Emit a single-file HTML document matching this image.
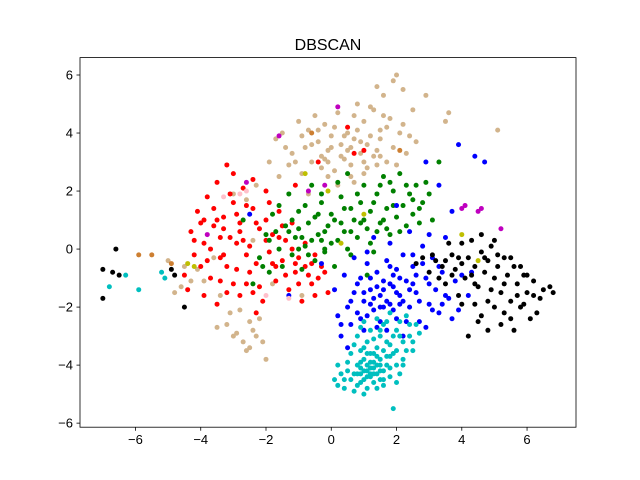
<!DOCTYPE html>
<html><head><meta charset="utf-8"><style>
html,body{margin:0;padding:0;background:#fff;}
svg{display:block;font-family:"Liberation Sans","DejaVu Sans",sans-serif;}
</style></head><body>
<svg id="chart" width="640" height="480" viewBox="0 0 640 480"></svg>
<script>
const xTicks=[-6,-4,-2,0,2,4,6];
const yTicks=[-6,-4,-2,0,2,4,6];
const tanPts=[[-1.7,3.8],[-1.5,4.0],[-1.3,2.9],[-1.2,3.3],[-1.0,4.4],[-0.9,2.6],[-0.8,3.5],[-0.7,4.1],[-0.6,3.0],[-0.5,4.6],[-0.4,3.7],[-0.3,2.8],[-0.2,4.3],[-0.1,3.4],[0.0,3.9],[0.1,2.7],[0.2,4.7],[0.3,3.6],[0.4,3.1],[0.5,4.0],[0.6,2.9],[0.7,3.8],[0.8,5.0],[0.9,3.3],[1.0,4.4],[1.1,2.8],[1.2,3.9],[1.3,4.8],[1.4,3.4],[1.5,4.1],[1.6,5.3],[1.7,3.0],[1.8,4.5],[1.9,5.8],[2.0,6.0],[2.1,4.0],[2.2,5.5],[2.3,3.3],[2.5,4.8],[2.6,3.7],[2.9,5.3],[3.5,4.4],[3.6,4.7],[5.1,4.1],[0.2,2.2],[0.7,2.3],[1.0,2.6],[-0.7,1.9],[-2.3,2.2],[-1.9,3.0],[1.4,5.6],[1.2,4.9],[0.5,3.4],[-0.3,3.2],[-3.5,-2.7],[-3.2,-2.6],[-2.9,-2.9],[-2.7,-3.2],[-2.6,-3.5],[-2.5,-3.4],[-2.4,-2.8],[-2.1,-3.2],[-2.0,-3.8],[-2.8,-2.1],[-3.9,-1.1],[-4.1,-0.7],[-4.5,-0.6],[-4.8,-1.5],[-4.6,-1.3],[-5.0,-0.4],[-3.6,-0.3],[-2.2,-2.4],[-1.8,-1.2],[-0.9,-1.6],[-3.0,1.9],[-2.6,1.7],[-2.4,0.3],[0.9,3.7],[-0.1,3.0],[1.5,3.2],
[-1.4,3.5],[-1.1,3.0],[-0.9,3.9],[-0.6,3.6],[-0.4,4.1],[-0.2,3.1],[0.0,3.5],[0.1,4.2],[0.3,3.2],[0.4,3.9],[0.6,3.5],[0.8,4.1],[1.0,3.0],[1.1,3.6],[1.3,3.2],[1.5,3.8],[1.7,4.2],[1.9,3.5],[2.2,4.3],[2.4,3.9],[0.7,4.6],[1.6,4.6],[-0.1,2.5],[0.6,2.5],[1.4,2.9],[2.0,2.9],[-1.6,2.5],[-3.0,-3.0],[-2.3,-3.0],[-3.4,-1.6],[-4.3,-1.1],[-3.1,-2.2],[-2.5,-2.5]];
const redPts=[[-4.3,0.6],[-4.2,-0.2],[-4.1,1.3],[-4.0,-0.6],[-3.9,0.2],[-3.8,1.8],[-3.7,-1.0],[-3.6,0.8],[-3.5,2.3],[-3.4,-0.3],[-3.3,1.1],[-3.2,-1.5],[-3.2,2.9],[-3.1,0.4],[-3.0,1.6],[-2.9,-0.7],[-2.8,0.9],[-2.7,2.1],[-2.6,-1.2],[-2.5,0.1],[-2.4,1.4],[-2.3,-0.5],[-2.2,0.7],[-2.1,-1.8],[-2.0,1.0],[-1.9,-0.1],[-1.8,0.5],[-1.7,-1.1],[-1.6,1.3],[-1.5,-0.4],[-1.4,0.3],[-1.3,-1.4],[-1.2,0.9],[-1.1,-0.8],[-1.0,-0.3],[-0.9,-1.8],[-0.8,0.2],[-0.7,-0.9],[-0.6,-0.5],[-0.4,-1.0],[-0.2,-0.8],[-0.1,-1.5],[-3.5,-1.9],[-2.8,-1.6],[-4.4,-1.4],[-3.0,2.6],[-2.0,2.0],[-3.7,0.0],[-2.6,-0.2],[-1.5,0.8],[0.5,4.2],[0.7,3.3],[1.0,3.4],[-0.4,3.0],[-1.1,2.2],[-3.3,0.7],[-2.3,-2.2],[-3.9,1.0],[-2.9,0.2],[-1.7,-0.6],[-3.4,-1.1],[-2.4,-1.5],[-0.5,-0.2],
[-4.0,0.9],[-3.8,-0.4],[-3.6,1.4],[-3.4,0.4],[-3.2,-0.6],[-3.1,1.9],[-2.9,1.2],[-2.7,0.3],[-2.5,-0.8],[-2.3,0.9],[-2.2,-1.3],[-2.0,0.3],[-1.8,-0.5],[-1.6,0.4],[-1.4,-0.9],[-1.2,0.0],[-1.0,-1.2],[-0.8,-0.6],[-0.6,-1.2],[-0.3,-0.6],[-3.5,1.0],[-3.0,-1.2],[-2.6,1.5],[-4.2,0.3],[-3.9,-1.6],[-2.4,2.4],[-1.9,1.6],[-1.1,-0.5],[-0.5,-1.6],[-4.5,-0.9],[-3.3,-0.2],[-2.8,0.6]];
const greenPts=[[-2.4,-1.2],[-2.2,-0.3],[-2.0,0.5],[-1.9,-0.8],[-1.8,1.2],[-1.6,0.0],[-1.5,-0.6],[-1.4,0.8],[-1.3,1.9],[-1.2,-0.2],[-1.1,0.4],[-1.0,1.3],[-0.9,-0.7],[-0.8,0.1],[-0.7,0.9],[-0.6,2.2],[-0.5,-0.4],[-0.4,0.5],[-0.3,1.6],[-0.2,-0.1],[-0.1,0.8],[0.0,1.2],[0.1,-0.6],[0.2,0.3],[0.3,1.8],[0.4,0.6],[0.5,2.6],[0.6,-0.2],[0.7,1.0],[0.8,0.4],[0.9,1.6],[1.0,2.2],[1.1,0.7],[1.2,1.3],[1.3,-0.1],[1.4,1.9],[1.5,0.9],[1.6,2.5],[1.7,1.4],[1.8,0.5],[1.9,2.0],[2.0,1.1],[2.1,2.6],[2.2,1.5],[2.3,0.8],[2.4,1.9],[2.5,1.2],[2.6,2.2],[2.7,0.9],[2.8,1.6],[3.0,1.9],[3.1,1.0],[3.3,3.0],[-0.5,1.1],[-1.0,0.0],[0.2,2.3],[1.1,-0.9],[-1.7,0.6],[-0.2,0.0],[0.6,1.4],[1.6,1.0],[-2.7,1.0],[-0.9,0.4],[-0.3,0.3],
[-1.9,0.3],[-1.6,1.5],[-1.3,0.6],[-1.0,0.7],[-0.8,1.5],[-0.6,0.3],[-0.4,1.2],[-0.2,0.6],[0.0,0.2],[0.1,1.0],[0.3,0.9],[0.4,1.4],[0.6,0.6],[0.8,1.9],[1.0,1.0],[1.2,0.2],[1.3,1.6],[1.5,2.2],[1.7,0.7],[1.9,1.5],[2.1,0.6],[2.3,2.2],[2.5,1.7],[2.7,1.4],[2.9,2.3],[1.8,2.3],[0.5,0.0],[-0.7,-0.2],[-1.2,1.0],[-2.1,-0.6],[-0.3,1.9],[0.9,0.9],[1.4,0.6]];
const bluePts=[[0.2,-2.3],[0.3,-3.0],[0.5,-2.0],[0.6,-2.6],[0.7,-1.5],[0.8,-2.2],[0.9,-1.0],[1.0,-1.8],[1.0,-2.8],[1.1,-0.5],[1.2,-1.4],[1.3,-2.1],[1.4,-0.8],[1.5,-1.6],[1.5,-2.5],[1.6,-1.1],[1.7,-0.4],[1.8,-1.9],[1.9,-1.3],[2.0,-0.7],[2.0,-2.4],[2.1,-1.6],[2.2,-0.2],[2.3,-1.1],[2.4,-2.0],[2.5,-0.6],[2.6,-1.5],[2.7,-2.5],[2.8,0.1],[2.9,-1.0],[3.0,-1.9],[3.1,-0.3],[3.2,-1.4],[3.3,-2.2],[3.4,-0.8],[3.5,0.4],[3.6,-1.7],[3.8,-1.1],[3.9,-2.1],[4.0,-0.9],[4.2,-1.6],[2.4,0.6],[1.8,0.2],[1.3,0.4],[0.7,-0.3],[2.2,-3.0],[1.7,-2.8],[3.9,3.6],[4.4,3.2],[4.7,3.0],[2.9,3.0],[3.3,2.2],[2.0,1.5],[-0.3,-0.5],[-2.5,1.2],[-1.3,-1.6],[0.1,-1.4],[1.1,-0.1],[0.4,-0.9],[1.2,-1.9],[1.6,-2.0],[2.1,-1.9],[1.4,-1.3],[0.9,-2.4],[2.5,-1.2],
[0.6,-1.8],[0.8,-1.2],[1.0,-1.5],[1.2,-1.0],[1.3,-1.7],[1.5,-2.0],[1.6,-1.4],[1.7,-1.8],[1.8,-1.2],[1.9,-2.1],[2.0,-1.5],[2.1,-1.0],[2.2,-1.8],[2.3,-2.5],[2.4,-1.4],[2.6,-0.9],[2.7,-1.8],[2.8,-0.5],[3.0,-1.2],[3.1,-2.1],[3.3,-0.6],[3.5,-1.6],[3.7,-2.4],[1.1,-2.3],[0.5,-3.4],[0.3,-2.6],[1.4,-2.7],[1.9,-0.9],[2.9,-2.7],[3.4,-1.9],[4.3,-0.8],[1.8,-0.6],[2.5,-0.2],[3.0,0.5],[3.7,1.3]];
const cyanPts=[[0.2,-4.0],[0.1,-4.5],[0.2,-4.7],[0.4,-4.8],[0.5,-4.2],[0.6,-3.6],[0.6,-4.5],[0.7,-4.9],[0.8,-3.0],[0.8,-4.0],[0.8,-4.3],[0.9,-3.5],[0.9,-4.6],[1.0,-2.5],[1.0,-3.8],[1.0,-4.2],[1.1,-4.4],[1.1,-3.2],[1.1,-4.8],[1.2,-2.8],[1.2,-3.9],[1.2,-4.1],[1.3,-3.6],[1.3,-4.3],[1.3,-4.6],[1.4,-2.4],[1.4,-3.4],[1.4,-4.0],[1.5,-3.0],[1.5,-3.8],[1.5,-4.2],[1.6,-2.6],[1.6,-3.5],[1.6,-4.5],[1.7,-3.2],[1.7,-4.0],[1.8,-2.2],[1.8,-3.7],[1.8,-4.4],[1.9,-3.0],[1.9,-5.5],[2.0,-2.8],[2.0,-3.5],[2.0,-4.0],[2.1,-2.5],[2.2,-3.2],[2.2,-3.8],[2.3,-2.3],[2.4,-3.0],[2.5,-3.5],[2.6,-2.6],[0.7,-3.3],[1.0,-5.0],[0.3,-4.3],[1.4,-4.8],[2.1,-4.3],[1.1,-4.0],[1.3,-4.1],[1.2,-4.4],[0.9,-4.1],[1.5,-4.5],[-6.3,-0.9],[-5.9,-1.4],[-5.2,-0.8],[-6.8,-1.3],[-5.1,-1.0],
[0.9,-4.3],[1.0,-4.5],[1.2,-4.3],[1.4,-4.3],[1.1,-4.2],[1.3,-3.9],[1.5,-4.0],[0.7,-4.3],[1.6,-4.2],[1.2,-3.6],[1.8,-3.3],[1.9,-3.6],[2.1,-3.0],[2.3,-3.5],[2.4,-2.6],[1.7,-2.5],[1.5,-2.8],[1.3,-3.1],[2.0,-4.6],[0.5,-3.9],[0.4,-4.5],[0.8,-4.7],[1.6,-4.7],[1.8,-4.1],[2.2,-4.0],[1.1,-3.6],[0.9,-3.9],[1.4,-3.7],[2.5,-3.2],[2.7,-2.9],[0.9,-2.7],[1.7,-3.7],[1.0,-3.4]];
const blackPts=[[2.6,-0.5],[2.8,-0.3],[3.0,-0.8],[3.2,-0.4],[3.4,-0.6],[3.5,-1.2],[3.7,-0.2],[3.8,-0.7],[4.0,0.2],[4.0,-0.5],[4.1,-1.0],[4.2,-0.3],[4.3,0.3],[4.4,-0.6],[4.5,-1.3],[4.6,-0.1],[4.7,-0.8],[4.8,-0.4],[4.9,0.1],[5.0,-1.0],[5.1,-0.6],[5.2,-1.5],[5.3,-0.3],[5.4,-0.9],[5.5,-1.8],[5.6,-0.6],[5.7,-1.2],[5.8,-2.0],[5.9,-0.9],[6.0,-1.5],[6.2,-1.1],[6.3,-2.2],[6.5,-1.4],[6.7,-1.3],[6.8,-1.5],[4.2,-3.0],[4.5,-2.5],[4.6,-2.3],[5.0,-2.0],[5.2,-2.6],[5.5,-2.4],[5.6,-2.8],[4.8,-1.8],[3.9,-1.6],[4.4,-1.9],[3.3,-1.0],[6.1,-2.4],[5.0,0.3],[4.6,0.5],[3.6,0.2],[-7.0,-0.7],[-7.0,-1.7],[-6.7,-0.8],[-6.6,0.0],[-6.5,-0.9],[-4.8,-0.9],[-4.5,-2.0],[-4.9,-0.7],
[3.1,-0.2],[3.5,-0.4],[3.9,-0.3],[4.3,-0.9],[4.7,-0.3],[5.1,-0.2],[5.5,-0.3],[5.8,-0.6],[6.0,-0.9],[6.4,-1.7],[5.3,-1.2],[4.9,-1.4],[4.4,-1.2],[5.9,-1.9],[6.2,-1.6],[4.0,-1.9],[3.7,-0.9],[4.8,-2.8],[5.3,-2.2],[5.7,-1.6]];
const magentaPts=[[4.1,1.5],[4.0,1.4],[4.5,1.3],[4.6,1.4],[5.2,0.7],[-2.6,2.3],[-3.8,0.5],[-1.6,3.9],[0.2,4.9],[-0.2,2.2],[-0.7,2.0]];
const yellowPts=[[4.0,0.5],[4.5,-0.4],[-0.8,2.6],[1.0,1.2],[-4.4,-0.5],[-4.2,-0.6],[-0.1,2.0],[0.3,0.2]];
const orangePts=[[-5.5,-0.2],[-5.9,-0.2],[2.1,3.4],[-4.9,-0.5],[-0.6,4.0]];
const pinkPts=[[-2.8,1.9],[-2.6,2.0],[-1.3,-1.7],[-3.3,1.8],[-2.0,-1.6]];

const NS="http://www.w3.org/2000/svg";
const svg=document.getElementById('chart');
const L=80,R=576,T=57.6,B=427.2;
const X0=-7.7,X1=7.5,Y0=-6.14,Y1=6.6;
function sx(v){return L+(v-X0)/(X1-X0)*(R-L);}
function sy(v){return B-(v-Y0)/(Y1-Y0)*(B-T);}
function mk(tag,attrs){const e=document.createElementNS(NS,tag);for(const k in attrs)e.setAttribute(k,attrs[k]);svg.appendChild(e);return e;}

const groups=[['tan',tanPts,'#d2b48c'],['red',redPts,'#ff0000'],['green',greenPts,'#008000'],['blue',bluePts,'#0000ff'],['cyan',cyanPts,'#00bfbf'],['black',blackPts,'#000000'],['magenta',magentaPts,'#bf00bf'],['yellow',yellowPts,'#bfbf00'],['orange',orangePts,'#cd7f32'],['pink',pinkPts,'#ffc0cb']];
for(const g of groups){
  for(const p of g[1]){
    const c=mk('circle',{cx:sx(p[0]),cy:sy(p[1]),r:2.5,fill:g[2]});
    
    
  }
}
const frame=mk('rect',{x:L,y:T,width:R-L,height:B-T,fill:'none',stroke:'#000','stroke-width':0.8});


for(const t of xTicks){
  const ln=mk('line',{x1:sx(t),x2:sx(t),y1:B,y2:B+3.5,stroke:'#000','stroke-width':0.8});
  
  
  const tx=mk('text',{x:sx(t),y:B+17,'text-anchor':'middle','font-size':13});
  tx.textContent=(t<0?'\u2212'+(-t):t);
  
  
}
for(const t of yTicks){
  const ln=mk('line',{x1:L-3.5,x2:L,y1:sy(t),y2:sy(t),stroke:'#000','stroke-width':0.8});
  
  
  const tx=mk('text',{x:L-7,y:sy(t)+4.5,'text-anchor':'end','font-size':13});
  tx.textContent=(t<0?'\u2212'+(-t):t);
  
  
}
const title=mk('text',{x:(L+R)/2,y:50,'text-anchor':'middle','font-size':16});
title.textContent='DBSCAN';


</script>
</body></html>
